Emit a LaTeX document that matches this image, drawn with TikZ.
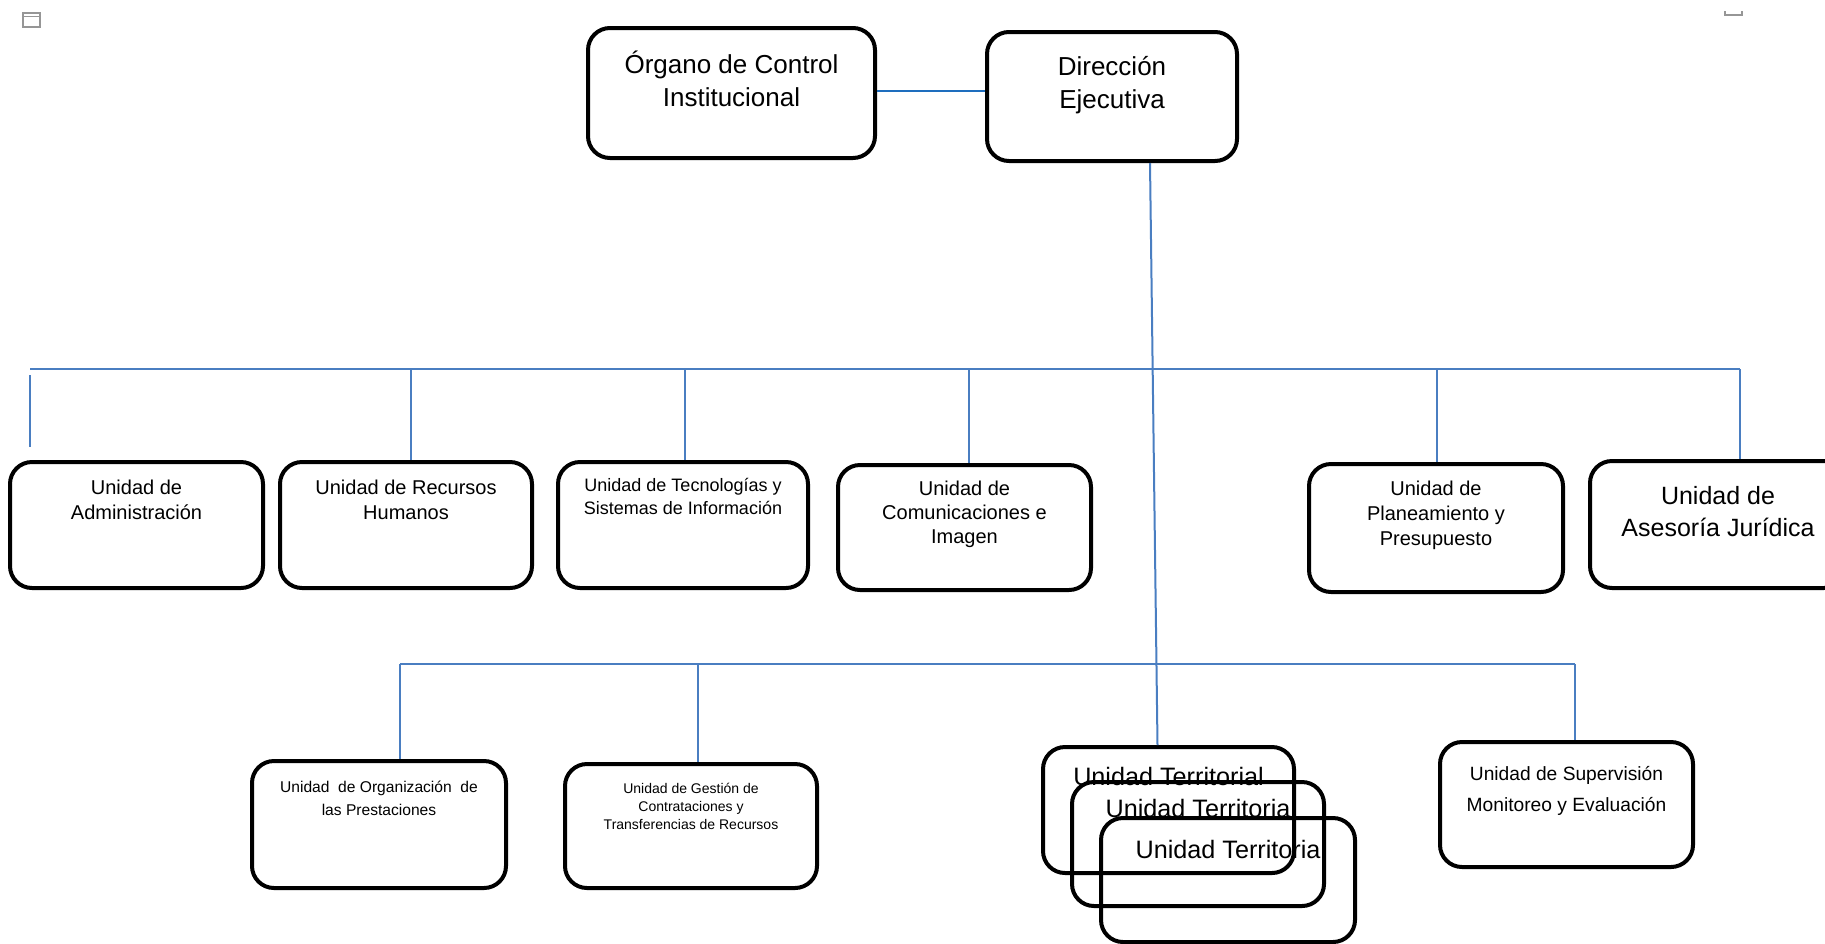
\documentclass[tikz,border=0pt]{standalone}
\usepackage{fontspec}
\setmainfont{Liberation Sans}
\usetikzlibrary{calc}
\definecolor{linkblue}{RGB}{74,126,193}
\definecolor{topblue}{RGB}{30,110,190}
\definecolor{markgray}{RGB}{150,150,150}
\tikzset{
  unit/.style={draw=black, line width=2pt, rounded corners=11pt, inner sep=0pt},
  sz/.style 2 args={minimum width=#1*0.5pt, minimum height=#2*0.5pt},
  % labels sit on the baseline of their last line
  lbl/.style={anchor=base, align=center, inner sep=0pt},
  fs/.style 2 args={font=\fontsize{#1}{#2}\selectfont},
  conn/.style={draw=linkblue, line width=1pt},
}
\begin{document}
\begin{tikzpicture}[x=0.5pt,y=-0.5pt]
\useasboundingbox (0,0) rectangle (1825,943);

% small anchor marks in the corners
\draw[markgray, line width=0.8pt] (23,13) rectangle (40,27);
\draw[markgray, line width=0.8pt] (23,16.5) -- (40,16.5);
\draw[markgray, line width=0.8pt] (1725,11) -- (1725,15) -- (1742,15) -- (1742,11);

% top level
\node[unit, sz={287}{130}] (og) at (731.5,93) {};
\node[unit, sz={250}{129}] (de) at (1112,96.5) {};
\node[lbl, fs={13}{16.5}] (ogt) at ($(og.north)+(0,80)$) {Órgano de Control\\Institucional};
\node[lbl, fs={13}{16.5}] (det) at ($(de.north)+(0,78)$) {Dirección\\Ejecutiva};

% first row of units
\node[unit, sz={253}{126}] (ad) at (136.5,525) {};
\node[unit, sz={252}{126}] (rh) at (406,525) {};
\node[unit, sz={250}{126}] (te) at (683,525) {};
\node[unit, sz={253}{125}] (co) at (964.5,527.5) {};
\node[unit, sz={254}{128}] (pl) at (1436,528) {};
\node[unit, sz={256}{127}] (as) at (1718,524.5) {};

\node[lbl, fs={10}{12.5}] (adt) at ($(ad.north)+(0,59)$) {Unidad de\\Administración};
\node[lbl, fs={10}{12.5}] (rht) at ($(rh.north)+(0,59)$) {Unidad de Recursos\\Humanos};
\node[lbl, fs={9}{11.5}] (tet) at ($(te.north)+(0,54)$) {Unidad de Tecnologías y\\Sistemas de Información};
\node[lbl, fs={10}{12}] (cot) at ($(co.north)+(0,80)$) {Unidad de\\Comunicaciones e\\Imagen};
\node[lbl, fs={10}{12.5}] (plt) at ($(pl.north)+(0,83)$) {Unidad de\\Planeamiento y\\Presupuesto};
\node[lbl, fs={12.5}{16}] (ast) at ($(as.north)+(0,77)$) {Unidad de\\Asesoría Jurídica};

% second row of units
\node[unit, sz={254}{127}] (or) at (379,824.5) {};
\node[unit, sz={252}{124}] (ge) at (691,826) {};
\node[unit, sz={251}{126}] (t1) at (1168.5,810) {};
\node[unit, sz={252}{124}] (t2) at (1198,844) {};
\node[unit, sz={254}{124}] (t3) at (1228,880) {};
\node[unit, sz={253}{125}] (su) at (1566.5,804.5) {};

\node[lbl, fs={7.8}{11.5}] (ort) at ($(or.north)+(0,56)$) {Unidad\ \ de Organización\ \ de\\las Prestaciones};
\node[lbl, fs={7}{9}] (get) at ($(ge.north)+(0,67)$) {Unidad de Gestión de\\Contrataciones y\\Transferencias de Recursos};
\node[lbl, fs={12.6}{15}] (t1t) at ($(t1.north)+(0,40)$) {Unidad Territorial};
\node[lbl, fs={12.6}{15}] (t2t) at ($(t2.north)+(0,37)$) {Unidad Territoria};
\node[lbl, fs={12.6}{15}] (t3t) at ($(t3.north)+(0,42)$) {Unidad Territoria};
\node[lbl, fs={9.6}{15.5}] (sut) at ($(su.north)+(0,71)$) {Unidad de Supervisión\\Monitoreo y Evaluación};

% link between control office and executive direction
\draw[draw=topblue, line width=1.3pt] ($(og.east)+(0,-2)$) -- ($(og.east -| de.west)+(0,-2)$);

% main trunk from the executive direction down to the territorial units
\coordinate (trunkTop) at ($(de.south)+(38,0)$);
\coordinate (trunkBot) at ($(t1.north)+(-11,0)$);
\draw[conn] (trunkTop) -- (trunkBot);

% first bus
\coordinate (b1L) at (30,369);
\coordinate (b1R) at (1740,369);
\draw[conn] (b1L) -- (b1R);
\coordinate (adA) at (30,375);
\coordinate (adB) at (30,447);
\draw[conn] (adA) -- (adB);
\coordinate (rhT) at ($(rh.north)+(5,0)$);
\coordinate (teT) at ($(te.north)+(2,0)$);
\coordinate (coT) at ($(co.north)+(4,0)$);
\coordinate (plT) at ($(pl.north)+(1,0)$);
\coordinate (asT) at ($(as.north)+(22,0)$);
\foreach \p in {rhT,teT,coT,plT,asT}
  \draw[conn] (\p |- b1L) -- (\p);

% second bus
\coordinate (orT) at ($(or.north)+(21,0)$);
\coordinate (geT) at ($(ge.north)+(7,0)$);
\coordinate (suT) at ($(su.north)+(8.5,0)$);
\coordinate (b2) at (0,664);
\draw[conn] (orT |- b2) -- (suT |- b2);
\foreach \p in {orT,geT,suT}
  \draw[conn] (\p |- b2) -- (\p);
\end{tikzpicture}
\end{document}
